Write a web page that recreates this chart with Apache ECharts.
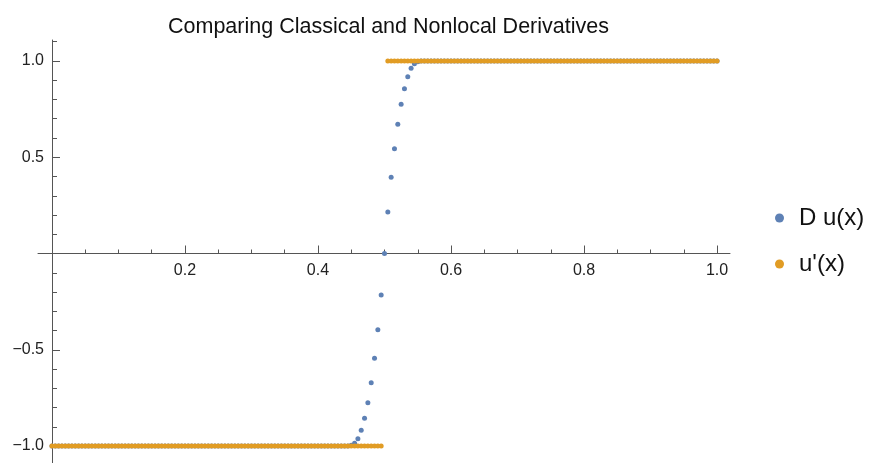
<!DOCTYPE html>
<html>
<head>
<meta charset="utf-8">
<title>Comparing Classical and Nonlocal Derivatives</title>
<script src="https://cdn.jsdelivr.net/npm/echarts@6/dist/echarts.min.js"></script>
<style>
  html, body { margin: 0; padding: 0; background: #fff; }
  #chart { width: 873px; height: 463px; }
</style>
</head>
<body>
<div id="chart"></div>
<script>
// sample points x = 0, 0.005, ..., 1 (201 samples)
var xs = [];
for (var i = 0; i <= 200; i++) xs.push(i / 200);

// D u(x) - nonlocal derivative, one value per sample
var duValues = [
  -1, -1, -1, -1, -1, -1, -1, -1, -1, -1,
  -1, -1, -1, -1, -1, -1, -1, -1, -1, -1,
  -1, -1, -1, -1, -1, -1, -1, -1, -1, -1,
  -1, -1, -1, -1, -1, -1, -1, -1, -1, -1,
  -1, -1, -1, -1, -1, -1, -1, -1, -1, -1,
  -1, -1, -1, -1, -1, -1, -1, -1, -1, -1,
  -1, -1, -1, -1, -1, -1, -1, -1, -1, -1,
  -1, -1, -1, -1, -1, -1, -1, -1, -1, -1,
  -1, -1, -1, -1, -1, -1, -1, -1, -1, -1,
  -0.996, -0.986, -0.962, -0.918, -0.856, -0.775, -0.671, -0.544, -0.396, -0.216,
  0, 0.216, 0.396, 0.544, 0.671, 0.775, 0.856, 0.918, 0.962, 0.986,
  0.996, 1, 1, 1, 1, 1, 1, 1, 1, 1,
  1, 1, 1, 1, 1, 1, 1, 1, 1, 1,
  1, 1, 1, 1, 1, 1, 1, 1, 1, 1,
  1, 1, 1, 1, 1, 1, 1, 1, 1, 1,
  1, 1, 1, 1, 1, 1, 1, 1, 1, 1,
  1, 1, 1, 1, 1, 1, 1, 1, 1, 1,
  1, 1, 1, 1, 1, 1, 1, 1, 1, 1,
  1, 1, 1, 1, 1, 1, 1, 1, 1, 1,
  1, 1, 1, 1, 1, 1, 1, 1, 1, 1,
  1
];

// u'(x) - classical derivative (undefined at x = 0.5)
var upValues = [
  -1, -1, -1, -1, -1, -1, -1, -1, -1, -1,
  -1, -1, -1, -1, -1, -1, -1, -1, -1, -1,
  -1, -1, -1, -1, -1, -1, -1, -1, -1, -1,
  -1, -1, -1, -1, -1, -1, -1, -1, -1, -1,
  -1, -1, -1, -1, -1, -1, -1, -1, -1, -1,
  -1, -1, -1, -1, -1, -1, -1, -1, -1, -1,
  -1, -1, -1, -1, -1, -1, -1, -1, -1, -1,
  -1, -1, -1, -1, -1, -1, -1, -1, -1, -1,
  -1, -1, -1, -1, -1, -1, -1, -1, -1, -1,
  -1, -1, -1, -1, -1, -1, -1, -1, -1, -1,
  null,
  1, 1, 1, 1, 1, 1, 1, 1, 1, 1,
  1, 1, 1, 1, 1, 1, 1, 1, 1, 1,
  1, 1, 1, 1, 1, 1, 1, 1, 1, 1,
  1, 1, 1, 1, 1, 1, 1, 1, 1, 1,
  1, 1, 1, 1, 1, 1, 1, 1, 1, 1,
  1, 1, 1, 1, 1, 1, 1, 1, 1, 1,
  1, 1, 1, 1, 1, 1, 1, 1, 1, 1,
  1, 1, 1, 1, 1, 1, 1, 1, 1, 1,
  1, 1, 1, 1, 1, 1, 1, 1, 1, 1,
  1, 1, 1, 1, 1, 1, 1, 1, 1, 1
];

var seriesNames = ['D u(x)', "u'(x)"];

// tick positions
var xMajorTicks = [0.2, 0.4, 0.6, 0.8, 1.0];
var xMinorTicks = [0.05, 0.1, 0.15, 0.25, 0.3, 0.35, 0.45, 0.5, 0.55, 0.65, 0.7, 0.75, 0.85, 0.9, 0.95];
var yMajorTicks = [-1.0, -0.5, 0.5, 1.0];
var yMinorTicks = [-0.9, -0.8, -0.7, -0.6, -0.4, -0.3, -0.2, -0.1, 0.1, 0.2, 0.3, 0.4, 0.6, 0.7, 0.8, 0.9, 1.1];

function pairs(ys) {
  var out = [];
  for (var k = 0; k < xs.length; k++) {
    if (ys[k] !== null) out.push([xs[k], ys[k]]);
  }
  return out;
}

var font = 'Liberation Sans, Arial, sans-serif';
var axisColor = '#555';

function fmt(v) {
  return v.toFixed(1).replace('-', '\u2212');
}

var xRange = { min: -0.021, max: 1.0195 };
var yRange = { min: -1.088, max: 1.109 };

// plot box in pixels, the axes cross at (0, 0)
var box = { left: 38, right: 143, top: 40, bottom: 0 };
var zeroY = 253.5;   // pixel row of y = 0
var zeroX = 52;      // pixel column of x = 0

var hidden = {
  axisLine: { show: false }, axisTick: { show: false },
  axisLabel: { show: false }, splitLine: { show: false }
};

var myChart = echarts.init(document.getElementById('chart'), null, { renderer: 'canvas' });

var option = {
  animation: false,
  backgroundColor: '#fff',
  title: {
    text: 'Comparing Classical and Nonlocal Derivatives',
    left: 163,
    top: 11,
    textStyle: {
      fontFamily: font,
      fontSize: 21.5,
      fontWeight: 'normal',
      color: '#111'
    }
  },
  legend: {
    orient: 'vertical',
    left: 770,
    top: 201,
    itemWidth: 9,
    itemHeight: 9,
    itemGap: 22,
    icon: 'circle',
    data: seriesNames,
    textStyle: {
      fontFamily: font,
      fontSize: 24,
      color: '#111',
      padding: [0, 0, 0, 10]
    }
  },
  grid: [
    // data
    { left: box.left, right: box.right, top: box.top, bottom: box.bottom, outerBoundsMode: 'none' },
    // horizontal axis, its bottom edge sits on y = 0
    { left: box.left, right: box.right, top: box.top, bottom: 463 - zeroY, outerBoundsMode: 'none' },
    // vertical axis, its left edge sits on x = 0
    { left: zeroX, right: box.right, top: box.top, bottom: box.bottom, outerBoundsMode: 'none' }
  ],
  xAxis: [
    Object.assign({ type: 'value', gridIndex: 0, min: xRange.min, max: xRange.max }, hidden),
    {
      type: 'value', gridIndex: 1, min: xRange.min, max: xRange.max,
      axisLine: { onZero: false, lineStyle: { color: axisColor, width: 1 } },
      axisTick: { inside: true, length: 8, customValues: xMajorTicks, lineStyle: { color: axisColor } },
      axisLabel: {
        customValues: xMajorTicks,
        formatter: fmt,
        margin: 9,
        fontFamily: font,
        fontSize: 16,
        color: '#222'
      },
      splitLine: { show: false }
    },
    {
      type: 'value', gridIndex: 1, min: xRange.min, max: xRange.max, position: 'bottom',
      axisLine: { onZero: false, show: false },
      axisTick: { inside: true, length: 4, customValues: xMinorTicks, lineStyle: { color: axisColor } },
      axisLabel: { show: false },
      splitLine: { show: false }
    },
    Object.assign({ type: 'value', gridIndex: 2, min: 0, max: 1 }, hidden)
  ],
  yAxis: [
    Object.assign({ type: 'value', gridIndex: 0, min: yRange.min, max: yRange.max }, hidden),
    Object.assign({ type: 'value', gridIndex: 1, min: 0, max: 1 }, hidden),
    {
      type: 'value', gridIndex: 2, min: yRange.min, max: yRange.max,
      axisLine: { onZero: false, lineStyle: { color: axisColor, width: 1 } },
      axisTick: { inside: true, length: 8, customValues: yMajorTicks, lineStyle: { color: axisColor } },
      axisLabel: {
        customValues: yMajorTicks,
        formatter: fmt,
        margin: 8,
        fontFamily: font,
        fontSize: 16,
        color: '#222'
      },
      splitLine: { show: false }
    },
    {
      type: 'value', gridIndex: 2, min: yRange.min, max: yRange.max, position: 'left',
      axisLine: { onZero: false, show: false },
      axisTick: { inside: true, length: 5, customValues: yMinorTicks, lineStyle: { color: axisColor } },
      axisLabel: { show: false },
      splitLine: { show: false }
    }
  ],
  series: [{
    name: seriesNames[0],
    type: 'scatter',
    xAxisIndex: 0,
    yAxisIndex: 0,
    symbolSize: 5,
    itemStyle: { color: '#5e81b5', opacity: 1 },
    data: pairs(duValues)
  }, {
    name: seriesNames[1],
    type: 'scatter',
    xAxisIndex: 0,
    yAxisIndex: 0,
    symbolSize: 5,
    itemStyle: { color: '#e19c24', opacity: 1 },
    data: pairs(upValues)
  }]
};

myChart.setOption(option);
</script>
</body>
</html>
